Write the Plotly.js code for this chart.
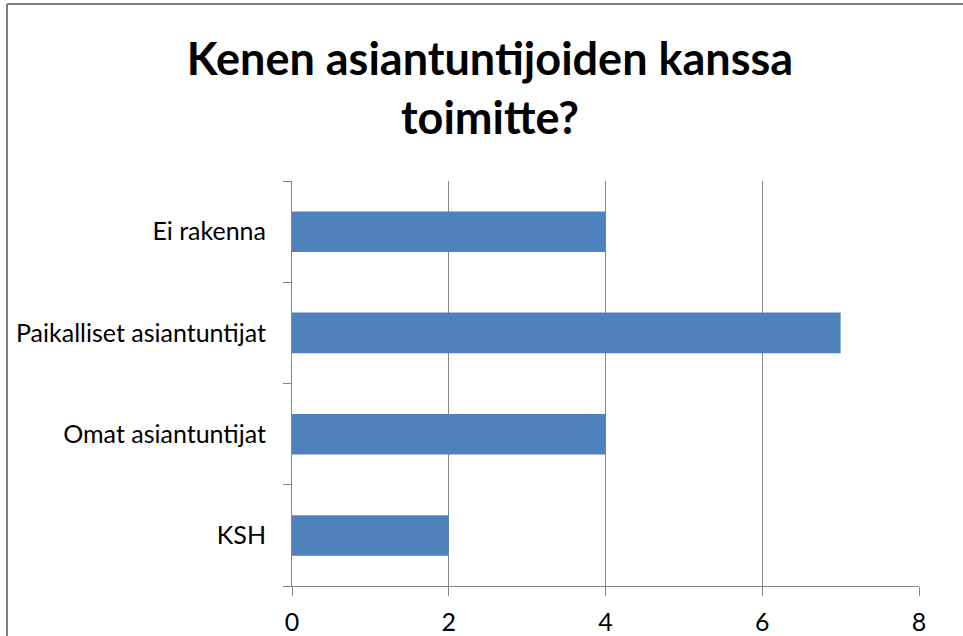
<!DOCTYPE html>
<html>
<head>
<meta charset="utf-8">
<script src="https://cdn.plot.ly/plotly-3.0.1.min.js"></script>
<style>
  html, body { margin: 0; padding: 0; background: #ffffff; }
  #chart { width: 963px; height: 636px; }
</style>
</head>
<body>
<div id="chart"></div>
<script>
// Categories listed bottom-to-top (Plotly draws first category at the bottom)
const categories = ['KSH', 'Omat asiantuntijat', 'Paikalliset asiantuntijat', 'Ei rakenna'];
const values = [2, 4, 7, 4];
const xTicks = [0, 2, 4, 6, 8];
const titleText = 'Kenen asiantuntijoiden kanssa<br>toimitte?';

const axisColor = '#868686';
const fontFamily = 'Lato, "Open Sans", "DejaVu Sans", sans-serif';

const trace = {
  type: 'bar',
  orientation: 'h',
  y: categories,
  x: values,
  marker: { color: '#4F81BD', line: { width: 0 } },
  hoverinfo: 'x+y'
};

// Plot area in px: x 292..919, y 181..586
const L = 292, R = 963 - 919, T = 181, B = 636 - 586;
const pw = 963 - L - R, ph = 636 - T - B;
function px2paperX(p) { return (p - L) / pw; }
function px2paperY(p) { return (636 - B - p) / ph; }

const layout = {
  width: 963,
  height: 636,
  margin: { l: L, r: R, t: T, b: B, pad: 0 },
  paper_bgcolor: '#ffffff',
  plot_bgcolor: '#ffffff',
  showlegend: false,
  bargap: 0.6,
  font: { family: fontFamily, size: 25, color: '#000000' },
  title: {
    text: titleText,
    font: { family: fontFamily, size: 45, color: '#000000', weight: 'bold' },
    x: 490 / 963,
    xanchor: 'center',
    xref: 'container',
    y: 1 - 75 / 636,
    yanchor: 'top',
    yref: 'container'
  },
  xaxis: {
    range: [0, 8],
    tickvals: xTicks,
    ticktext: xTicks.map(String),
    showgrid: true,
    gridcolor: axisColor,
    gridwidth: 1,
    zeroline: false,
    showline: true,
    linecolor: axisColor,
    linewidth: 1,
    ticks: 'outside',
    ticklen: 9,
    tickcolor: axisColor,
    ticklabelstandoff: 5,
    tickfont: { family: fontFamily, size: 25, color: '#000000' },
    fixedrange: true
  },
  yaxis: {
    type: 'category',
    showgrid: false,
    zeroline: false,
    showline: true,
    linecolor: axisColor,
    linewidth: 1,
    ticks: 'outside',
    tickson: 'boundaries',
    ticklen: 8,
    tickcolor: axisColor,
    ticklabelstandoff: 20,
    tickfont: { family: fontFamily, size: 25, color: '#000000' },
    fixedrange: true
  },
  shapes: [
    // outer chart frame: top and left edges visible in the reference
    { type: 'line', xref: 'paper', yref: 'paper',
      x0: px2paperX(7), x1: px2paperX(963), y0: px2paperY(4), y1: px2paperY(4),
      line: { color: '#7f7f7f', width: 2 } },
    { type: 'line', xref: 'paper', yref: 'paper',
      x0: px2paperX(7), x1: px2paperX(7), y0: px2paperY(4), y1: px2paperY(636),
      line: { color: '#7f7f7f', width: 2 } }
  ]
};

Plotly.newPlot('chart', [trace], layout, { displayModeBar: false, staticPlot: true });
</script>
</body>
</html>
